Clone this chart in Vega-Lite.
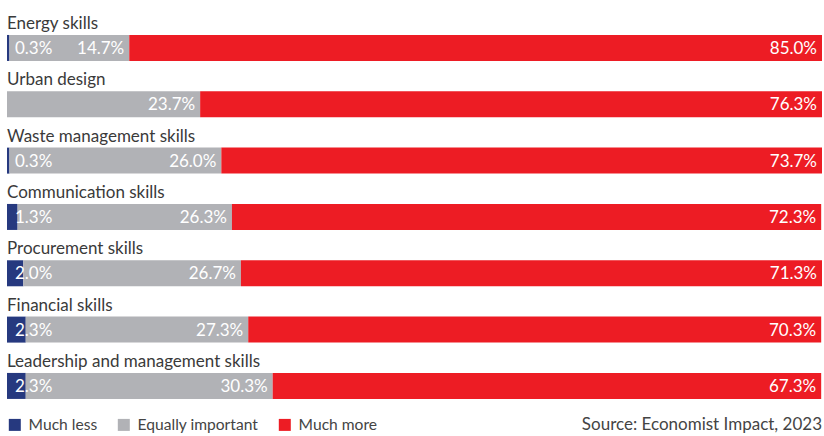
{
  "$schema": "https://vega.github.io/schema/vega-lite/v6.json",
  "autosize": "none",
  "width": 815,
  "height": 394.3,
  "padding": {"left": 7, "right": 2, "top": 19.8, "bottom": 21.9},
  "background": "white",
  "config": {"view": {"stroke": null}, "font": "Lato"},
  "title": {"text": "Source: Economist Impact, 2023", "orient": "bottom", "anchor": "end", "fontSize": 17, "fontWeight": "normal", "color": "#444444", "font": "Lato", "offset": -17},
  "data": {"values": [
    {"category": "Energy skills", "response": "Much less", "k": 1, "value": 0.3},
    {"category": "Energy skills", "response": "Equally important", "k": 2, "value": 14.7},
    {"category": "Energy skills", "response": "Much more", "k": 3, "value": 85.0},
    {"category": "Urban design", "response": "Much less", "k": 1, "value": 0},
    {"category": "Urban design", "response": "Equally important", "k": 2, "value": 23.7},
    {"category": "Urban design", "response": "Much more", "k": 3, "value": 76.3},
    {"category": "Waste management skills", "response": "Much less", "k": 1, "value": 0.3},
    {"category": "Waste management skills", "response": "Equally important", "k": 2, "value": 26.0},
    {"category": "Waste management skills", "response": "Much more", "k": 3, "value": 73.7},
    {"category": "Communication skills", "response": "Much less", "k": 1, "value": 1.3},
    {"category": "Communication skills", "response": "Equally important", "k": 2, "value": 26.3},
    {"category": "Communication skills", "response": "Much more", "k": 3, "value": 72.3},
    {"category": "Procurement skills", "response": "Much less", "k": 1, "value": 2.0},
    {"category": "Procurement skills", "response": "Equally important", "k": 2, "value": 26.7},
    {"category": "Procurement skills", "response": "Much more", "k": 3, "value": 71.3},
    {"category": "Financial skills", "response": "Much less", "k": 1, "value": 2.3},
    {"category": "Financial skills", "response": "Equally important", "k": 2, "value": 27.3},
    {"category": "Financial skills", "response": "Much more", "k": 3, "value": 70.3},
    {"category": "Leadership and management skills", "response": "Much less", "k": 1, "value": 2.3},
    {"category": "Leadership and management skills", "response": "Equally important", "k": 2, "value": 30.3},
    {"category": "Leadership and management skills", "response": "Much more", "k": 3, "value": 67.3}
  ]},
  "transform": [
    {"stack": "value", "groupby": ["category"], "sort": [{"field": "k", "order": "ascending"}], "as": ["x0", "x1"]},
    {"calculate": "format(datum.value, '.1f') + '%'", "as": "lbl"}
  ],
  "encoding": {
    "y": {"field": "category", "type": "nominal", "axis": null,
      "sort": ["Energy skills", "Urban design", "Waste management skills", "Communication skills", "Procurement skills", "Financial skills", "Leadership and management skills"],
      "scale": {"paddingInner": 0, "paddingOuter": 0}}
  },
  "layer": [
    {
      "mark": {"type": "bar", "height": {"band": 0.4616}},
      "encoding": {
        "x": {"field": "x0", "type": "quantitative", "axis": null, "scale": {"domain": [0, 100]}},
        "x2": {"field": "x1"},
        "color": {"field": "response", "type": "nominal",
          "scale": {"domain": ["Much less", "Equally important", "Much more"], "range": ["#26397f", "#b1b2b6", "#ed1c24"]},
          "legend": {"orient": "none", "legendX": 0, "legendY": 397, "direction": "horizontal", "title": null,
            "symbolType": "square", "symbolSize": 144, "symbolStrokeWidth": 0, "symbolOpacity": 1,
            "labelFont": "Lato", "labelFontSize": 15.6, "labelColor": "#444444", "labelOffset": 6,
            "columnPadding": 18, "padding": 0}}
      }
    },
    {
      "transform": [{"filter": "datum.k == 1 && datum.value > 0"}],
      "mark": {"type": "text", "align": "left", "baseline": "middle", "dx": 8, "dy": 1, "fontSize": 17, "color": "white"},
      "encoding": {
        "x": {"field": "x0", "type": "quantitative"},
        "text": {"field": "lbl", "type": "nominal"}
      }
    },
    {
      "transform": [{"filter": "datum.k > 1 && datum.value > 0"}],
      "mark": {"type": "text", "align": "right", "baseline": "middle", "dx": -5, "dy": 1, "fontSize": 17, "color": "white"},
      "encoding": {
        "x": {"field": "x1", "type": "quantitative"},
        "text": {"field": "lbl", "type": "nominal"}
      }
    },
    {
      "transform": [{"filter": "datum.k == 1"}],
      "mark": {"type": "text", "align": "left", "baseline": "alphabetic", "dy": -19, "fontSize": 17, "color": "#3a3a3a"},
      "encoding": {
        "x": {"datum": 0},
        "text": {"field": "category", "type": "nominal"}
      }
    }
  ]
}
